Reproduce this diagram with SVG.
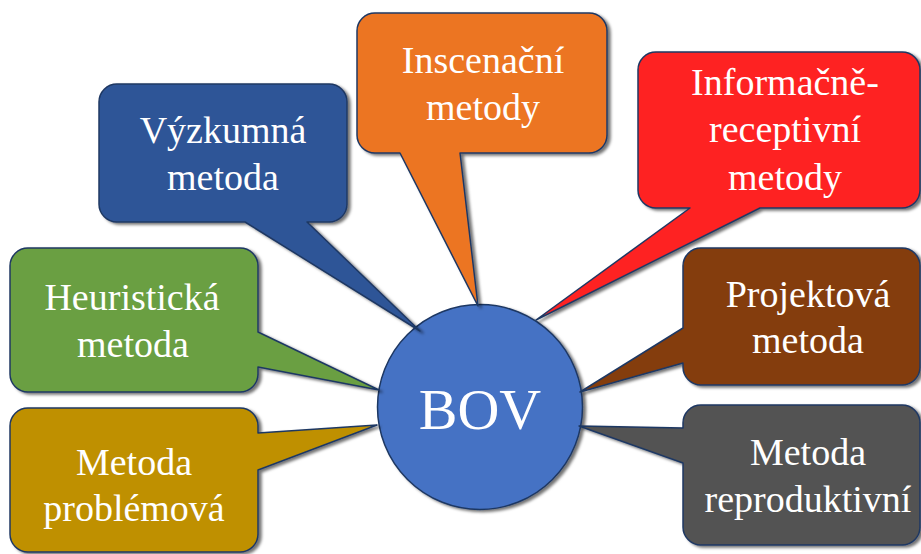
<svg xmlns="http://www.w3.org/2000/svg" width="921" height="554" viewBox="0 0 921 554">
  <defs>
    <filter id="shade" x="-10%" y="-10%" width="125%" height="125%">
      <feDropShadow dx="3" dy="2" stdDeviation="1.4" flood-color="#000" flood-opacity="0.55"/>
    </filter>
    <style>
      .bubble { stroke: #1F3863; stroke-width: 1.5; stroke-linejoin: round; filter: url(#shade); }
      .label { font-family: "Liberation Serif", "Times New Roman", serif; font-size: 38px; fill: #ffffff; text-anchor: middle; }
      .hub { font-family: "Liberation Serif", "Times New Roman", serif; font-size: 58px; fill: #ffffff; text-anchor: middle; }
    </style>
  </defs>
  <rect width="921" height="554" fill="#ffffff"/>

  <!-- central node -->
  <g id="bov">
    <circle cx="480" cy="407" r="102.5" fill="#4472C4" stroke="#1F3863" stroke-width="1.5" filter="url(#shade)"/>
    <text class="hub" x="480" y="429">BOV</text>
  </g>

  <!-- callouts, each with a wedge pointing at the centre -->
  <g id="heuristicka">
    <path class="bubble" fill="#6A9F42" d="M28,248 H240 A18,18 0 0 1 258,266 V332 L379,390 L258,367 V374 A18,18 0 0 1 240,392 H28 A18,18 0 0 1 10,374 V266 A18,18 0 0 1 28,248 Z"/>
    <text class="label" x="132" y="310">Heuristická</text>
    <text class="label" x="133" y="357">metoda</text>
  </g>

  <g id="problemova">
    <path class="bubble" fill="#BF9000" d="M28,408 H240 A18,18 0 0 1 258,426 V433 L377,425 L258,470 V534 A18,18 0 0 1 240,552 H28 A18,18 0 0 1 10,534 V426 A18,18 0 0 1 28,408 Z"/>
    <text class="label" x="134" y="475">Metoda</text>
    <text class="label" x="134" y="521">problémová</text>
  </g>

  <g id="vyzkumna">
    <path class="bubble" fill="#2F5597" d="M117,84 H329 A18,18 0 0 1 347,102 V204 A18,18 0 0 1 329,222 H307 L420,331 L245,222 H117 A18,18 0 0 1 99,204 V102 A18,18 0 0 1 117,84 Z"/>
    <text class="label" x="223" y="143">Výzkumná</text>
    <text class="label" x="223" y="190">metoda</text>
  </g>

  <g id="inscenacni">
    <path class="bubble" fill="#EC7524" d="M375,13 H589 A18,18 0 0 1 607,31 V135 A18,18 0 0 1 589,153 H460 L478,306 L400,153 H375 A18,18 0 0 1 357,135 V31 A18,18 0 0 1 375,13 Z"/>
    <text class="label" x="483" y="73">Inscenační</text>
    <text class="label" x="483" y="120">metody</text>
  </g>

  <g id="informacne-receptivni">
    <path class="bubble" fill="#FE2121" d="M656,52 H902 A18,18 0 0 1 920,70 V190 A18,18 0 0 1 902,208 H760 L536,320 L690,208 H656 A18,18 0 0 1 638,190 V70 A18,18 0 0 1 656,52 Z"/>
    <text class="label" x="785" y="95">Informačně-</text>
    <text class="label" x="785" y="142">receptivní</text>
    <text class="label" x="785" y="190">metody</text>
  </g>

  <g id="projektova">
    <path class="bubble" fill="#843C0C" d="M701,248 H902 A18,18 0 0 1 920,266 V367 A18,18 0 0 1 902,385 H701 A18,18 0 0 1 683,367 V363 L580,392 L683,328 V266 A18,18 0 0 1 701,248 Z"/>
    <text class="label" x="808" y="307">Projektová</text>
    <text class="label" x="808" y="353">metoda</text>
  </g>

  <g id="reproduktivni">
    <path class="bubble" fill="#525252" d="M701,405 H902 A18,18 0 0 1 920,423 V527 A18,18 0 0 1 902,545 H701 A18,18 0 0 1 683,527 V463 L579,426 L683,428 V423 A18,18 0 0 1 701,405 Z"/>
    <text class="label" x="808" y="465">Metoda</text>
    <text class="label" x="808" y="512">reproduktivní</text>
  </g>
</svg>
